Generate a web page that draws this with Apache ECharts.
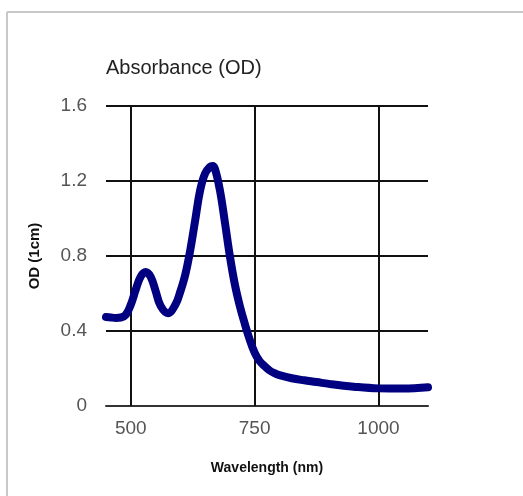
<!DOCTYPE html>
<html>
<head>
<meta charset="utf-8">
<script src="https://cdn.jsdelivr.net/npm/echarts@6/dist/echarts.min.js"></script>
<style>
html,body{margin:0;padding:0;background:#fff;}
#c{width:523px;height:496px;}
</style>
</head>
<body>
<div id="c"></div>
<script>
// Data
var wavelengths = [450,460,470,480,490,500,510,520,530,540,550,560,575,590,600,610,620,630,640,650,660,665,670,680,690,700,710,720,730,740,750,760,770,780,790,800,825,850,875,900,950,1000,1050,1100];
var od          = [0.475,0.472,0.470,0.472,0.487,0.54,0.62,0.69,0.715,0.69,0.615,0.535,0.495,0.54,0.61,0.70,0.83,0.99,1.15,1.24,1.275,1.28,1.265,1.15,0.98,0.80,0.65,0.535,0.44,0.355,0.285,0.24,0.213,0.19,0.175,0.165,0.148,0.137,0.128,0.118,0.103,0.094,0.093,0.10];
var xTickValues = [500,750,1000];
var yTickValues = [0,0.4,0.8,1.2,1.6];

var seriesData = wavelengths.map(function(w,i){return [w, od[i]];});
var FONT = '"Liberation Sans", Arial, sans-serif';

var chart = echarts.init(document.getElementById('c'), null, {renderer:'canvas'});
chart.setOption({
  animation:false,
  backgroundColor:'#fff',
  title:{
    text:'Absorbance (OD)', left:106, top:58, padding:0,
    textStyle:{fontFamily:FONT, fontSize:20, fontWeight:'normal', color:'#222'}
  },
  graphic:[
    {type:'line', shape:{x1:7,y1:12,x2:523,y2:12}, style:{stroke:'#c8c8c8', lineWidth:2}, silent:true},
    {type:'line', shape:{x1:7,y1:12,x2:7,y2:496}, style:{stroke:'#c8c8c8', lineWidth:2}, silent:true}
  ],
  grid:{left:106, top:106, right:95, bottom:90, containLabel:false},
  xAxis:{
    type:'value', min:450, max:1100, interval:50,
    name:'Wavelength (nm)', nameLocation:'middle', nameGap:55,
    nameTextStyle:{fontFamily:FONT, fontSize:14, fontWeight:'bold', color:'#111'},
    axisLine:{show:true, lineStyle:{color:'#333', width:2}},
    axisTick:{show:false},
    splitLine:{show:false},
    axisLabel:{
      margin:13, fontFamily:FONT, fontSize:19, color:'#555',
      formatter:function(v){ return xTickValues.indexOf(v) >= 0 ? String(v) : ''; }
    }
  },
  yAxis:{
    type:'value', min:0, max:1.6, interval:0.4,
    name:'OD (1cm)', nameLocation:'middle', nameGap:64, nameRotate:90,
    nameTextStyle:{fontFamily:FONT, fontSize:15, fontWeight:'bold', color:'#111'},
    axisLine:{show:false},
    axisTick:{show:false},
    splitLine:{show:true, lineStyle:{color:'#111', width:2}},
    axisLabel:{
      margin:19, fontFamily:FONT, fontSize:19, color:'#555',
      formatter:function(v){ return v === 0 ? '0' : v.toFixed(1); }
    }
  },
  series:[
    {
      type:'line', data:seriesData, z:1, silent:true,
      showSymbol:false, symbol:'none',
      lineStyle:{opacity:0, width:0},
      markLine:{
        silent:true, symbol:['none','none'], label:{show:false},
        lineStyle:{color:'#111', width:2, type:'solid'},
        data: xTickValues.map(function(v){return {xAxis:v};})
      }
    },
    {
      type:'line', data:seriesData, z:5,
      smooth:0.4, showSymbol:false, symbol:'none',
      lineStyle:{color:'#000080', width:8, cap:'round', join:'round'}
    }
  ]
});
</script>
</body>
</html>
